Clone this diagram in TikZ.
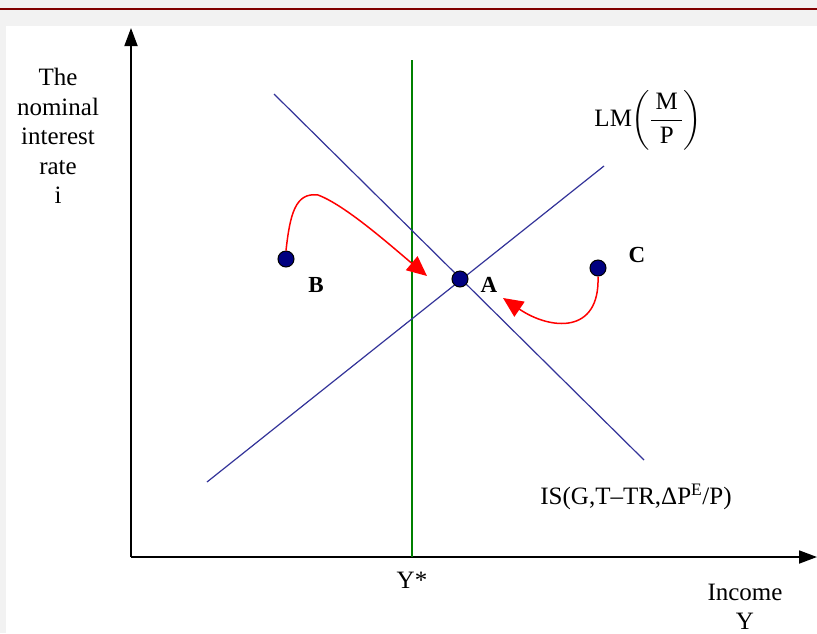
\documentclass[tikz,border=0pt]{standalone}
\usepackage{amsmath}
\usepackage{fontspec}
\setmainfont{Liberation Serif}
\usetikzlibrary{arrows.meta, positioning}
\definecolor{bggray}{HTML}{F2F2F2}
\definecolor{framered}{HTML}{800000}
\definecolor{lineblue}{HTML}{333399}
\definecolor{dotblue}{HTML}{000080}
\definecolor{fullgreen}{HTML}{008000}

\begin{document}
\begin{tikzpicture}[
	x=1pt, y=-1pt,
	every node/.style={font=\fontsize{25}{29.5}\selectfont},
	axis/.style={line width=1.8pt, -{Triangle[length=18pt,width=13pt]}},
	schedule/.style={line width=1.2pt, lineblue},
	full employment/.style={line width=1.5pt, fullgreen},
	point/.style={circle, draw=black, fill=dotblue, line width=1pt, minimum size=16pt, inner sep=0pt},
	point label/.style={font=\fontsize{23}{27}\selectfont\bfseries},
	adjustment/.style={red, line width=1.5pt, -{Triangle[length=20pt,width=18pt]}}
	]
	\useasboundingbox (0,0) rectangle (817,633);
	% =====================================================
	% BACKGROUND
	% =====================================================
	\fill[bggray] (0,0) rectangle (817,633);
	\draw[framered, line width=2.5pt] (0,9) -- (817,9);
	\fill[white] (6,26) rectangle (817,633);

	% =====================================================
	% MAIN COORDINATES
	% =====================================================
	\coordinate (Origin) at (131,557);
	\coordinate (YTop) at (131,28);
	\coordinate (XEnd) at (817,557);
	\coordinate (ISTop) at (274,94);
	\coordinate (ISBottom) at (644,460);
	\coordinate (LMBottom) at (207,482);
	\coordinate (LMTop) at (604,166);
	\coordinate (FullTop) at (412,60);
	\coordinate (FullBottom) at (412,557);

	% =====================================================
	% AXES
	% =====================================================
	\draw[axis] (Origin) -- (YTop);
	\draw[axis] (Origin) -- (XEnd);
	\node[align=center] (ilabel) at (58,136) {The\\nominal\\interest\\rate\\i};
	\node[align=center] (Ylabel) at (745,607) {Income\\Y};

	% =====================================================
	% CURVES
	% =====================================================
	\draw[full employment] (FullTop) -- (FullBottom);
	\node (Ystar) at (412,580) {Y*};
	\draw[schedule] (ISTop) -- (ISBottom);
	\draw[schedule] (LMBottom) -- (LMTop);
	\node (LMlabel) at (648,120) {LM$\left(\dfrac{\,\mathrm{M}\,}{\,\mathrm{P}\,}\right)$};
	\node (ISlabel) at (636,497) {IS(G,T–TR,ΔP\textsuperscript{E}/P)};

	% =====================================================
	% POINTS
	% =====================================================
	\node[point] (A) at (460,279) {};
	\node[point] (B) at (286,259) {};
	\node[point] (C) at (598,268) {};
	\node[point label] (Alabel) at (489,285) {A};
	\node[point label] (Blabel) at (316,285) {B};
	\node[point label] (Clabel) at (637,255) {C};

	% =====================================================
	% ADJUSTMENT PATHS
	% =====================================================
	\coordinate (BTurn) at (318,195);
	\coordinate (BEnd) at (427,276);
	\coordinate (CEnd) at (503,298);
	\draw[adjustment] (B.north) .. controls (290,215) and (295,192) .. (BTurn)
		.. controls (345,205) and (390,245) .. (BEnd);
	\draw[adjustment] (C.south) .. controls (600,335) and (550,330) .. (CEnd);

\end{tikzpicture}
\end{document}
